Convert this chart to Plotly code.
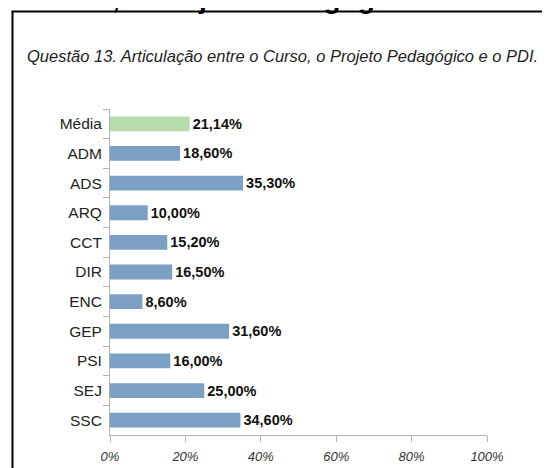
import plotly.graph_objects as go

categories = ["Média", "ADM", "ADS", "ARQ", "CCT", "DIR", "ENC", "GEP", "PSI", "SEJ", "SSC"]
values = [21.14, 18.60, 35.30, 10.00, 15.20, 16.50, 8.60, 31.60, 16.00, 25.00, 34.60]
value_labels = ["21,14%", "18,60%", "35,30%", "10,00%", "15,20%", "16,50%", "8,60%", "31,60%", "16,00%", "25,00%", "34,60%"]
x_ticks = [0, 20, 40, 60, 80, 100]
x_tick_labels = ["0%", "20%", "40%", "60%", "80%", "100%"]

colors = ["#b6dcac"] + ["#7ba0c4"] * (len(categories) - 1)

W, H = 550, 468
L, R, T, B = 102, 479, 101, 427

def px(x):
    return (x - L) / (R - L)

def py(y):
    return (B - y) / (B - T)

fig = go.Figure(go.Bar(
    x=values, y=categories, orientation="h",
    marker=dict(color=colors, line=dict(width=0)),
    width=0.5,
    text=value_labels, textposition="outside", constraintext="none",
    textfont=dict(family="Liberation Sans", size=14.5, color="#111111", weight="bold"),
    cliponaxis=False,
))

fig.update_layout(
    width=W, height=H,
    margin=dict(l=L, r=W - R, t=T, b=H - B, pad=0, autoexpand=False),
    paper_bgcolor="white", plot_bgcolor="white",
    showlegend=False,
    font=dict(family="Liberation Sans"),
    xaxis=dict(
        range=[0, 100], tickvals=x_ticks, ticktext=x_tick_labels,
        showgrid=False, zeroline=False, automargin=False,
        showline=True, linecolor="#b3b3b3", linewidth=1,
        ticks="outside", ticklen=6, tickcolor="#b3b3b3",
        ticklabelstandoff=3,
        tickfont=dict(family="Liberation Sans", size=13, color="#333333", style="italic"),
        fixedrange=True,
    ),
    yaxis=dict(
        categoryorder="array", categoryarray=categories, autorange="reversed",
        showgrid=False, zeroline=False, automargin=False,
        showline=True, linecolor="#b3b3b3", linewidth=1,
        ticks="outside", ticklen=6, tickcolor="#b3b3b3", tickson="boundaries",
        ticklabelstandoff=4,
        tickfont=dict(family="Liberation Sans", size=15.5, color="#222222"),
        fixedrange=True,
    ),
    shapes=[
        dict(type="line", xref="paper", yref="paper", x0=px(4.5), x1=px(4.5), y0=py(470), y1=py(3.5),
             line=dict(color="black", width=2)),
        dict(type="line", xref="paper", yref="paper", x0=px(3.5), x1=px(560), y0=py(3.5), y1=py(3.5),
             line=dict(color="black", width=2)),
    ],
    annotations=[
        dict(text="<b>Curso, o Projeto Pedagógico e o PDI.</b>", xref="paper", yref="paper",
             x=px(270), y=py(-9.5), xanchor="center", yanchor="middle", showarrow=False,
             font=dict(family="Liberation Sans", size=28, color="black")),
        dict(text="<i>Questão 13. Articulação entre o Curso, o Projeto Pedagógico e o PDI.</i>",
             xref="paper", yref="paper", x=px(274), y=py(48), xanchor="center", yanchor="middle",
             showarrow=False, font=dict(family="Liberation Sans", size=16.5, color="#222222")),
    ],
)

fig.write_html("out.html")
